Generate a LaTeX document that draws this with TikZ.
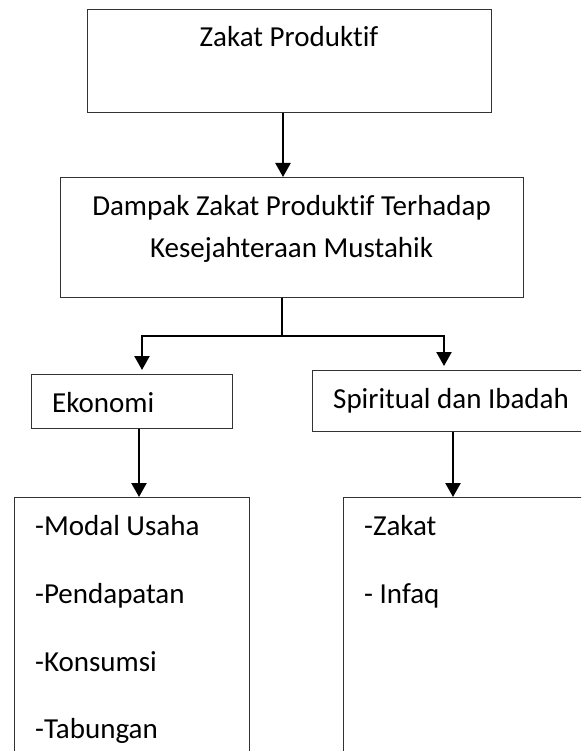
\documentclass[tikz,border=0pt]{standalone}
\usepackage{fontspec}
\setmainfont{Carlito}[Ligatures={NoCommon}]
\usetikzlibrary{arrows.meta}
\tikzset{
  boxnode/.style={draw=black!80, line width=1.3pt, rectangle, inner sep=0pt, anchor=north west},
  txt/.style={inner sep=0pt, font=\fontsize{29}{35}\selectfont, text=black},
  arr/.style={draw=black, line width=2.4pt, -{Triangle[length=14pt,width=15pt]}},
  conn/.style={draw=black, line width=2.4pt}
}
\begin{document}
\begin{tikzpicture}[x=1pt,y=-1pt]
\useasboundingbox (0,0) rectangle (581,751);
\clip (0,0) rectangle (581,751);
\fill[white] (0,0) rectangle (581,751);
% boxes
\node[boxnode, minimum width=404pt, minimum height=103pt] (zp) at (87,9) {};
\node[boxnode, minimum width=463pt, minimum height=120pt] (dampak) at (60,177) {};
\node[boxnode, minimum width=201pt, minimum height=54pt] (eko) at (31,374) {};
\node[boxnode, minimum width=300pt, minimum height=61pt] (spi) at (312,370) {};
\node[boxnode, minimum width=235pt, minimum height=280pt] (ekolist) at (14,497) {};
\node[boxnode, minimum width=270pt, minimum height=280pt] (spilist) at (343,497) {};
% texts
\node[txt, anchor=base] (tzp) at (289,47) {Zakat Produktif};
\node[txt, anchor=base] (td1) at (291.5,215) {Dampak Zakat Produktif Terhadap};
\node[txt, anchor=base] (td2) at (291.5,257) {Kesejahteraan Mustahik};
\node[txt, anchor=base west] (teko) at (52,412) {Ekonomi};
\node[txt, anchor=base west] (tspi) at (333,408) {Spiritual dan Ibadah};
\node[txt, anchor=base west] (l1) at (35,535) {-Modal Usaha};
\node[txt, anchor=base west] (l2) at (35,603) {-Pendapatan};
\node[txt, anchor=base west] (l3) at (35,671) {-Konsumsi};
\node[txt, anchor=base west] (l4) at (35,738) {-Tabungan};
\node[txt, anchor=base west] (r1) at (364,535) {-Zakat};
\node[txt, anchor=base west] (r2) at (364,603) {- Infaq};
% connector guide coordinates
\coordinate (c1) at (283,0);
\coordinate (j) at (282,336);
\coordinate (ekoX) at (142,0);
\coordinate (spiX) at (444,0);
\coordinate (a1) at (139,0);
\coordinate (a2) at (453,0);
% connectors
\draw[arr] (zp.south -| c1) -- (dampak.north -| c1);
\draw[conn] (dampak.south -| j) -- (j);
\draw[arr] (j) -| ([yshift=4pt]ekoX |- eko.north);
\draw[arr] (j) -| ([yshift=4pt]spiX |- spi.north);
\draw[arr] (eko.south -| a1) -- (ekolist.north -| a1);
\draw[arr] (spi.south -| a2) -- (spilist.north -| a2);
\end{tikzpicture}
\end{document}
